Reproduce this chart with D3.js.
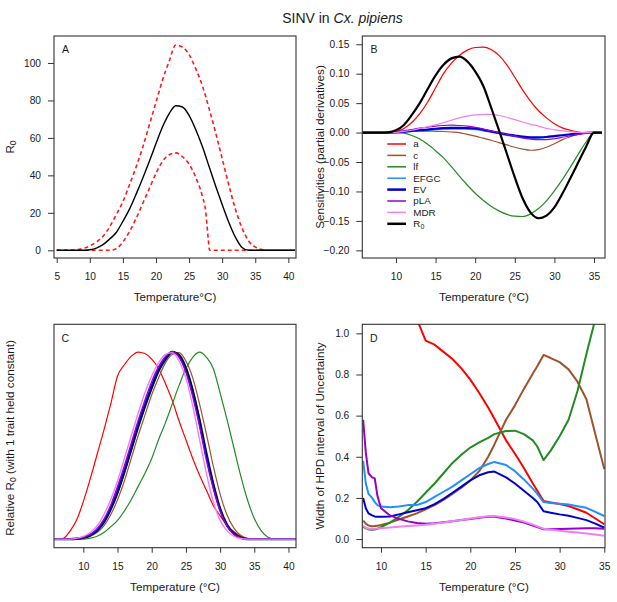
<!DOCTYPE html>
<html>
<head>
<meta charset="utf-8">
<script src="https://cdn.jsdelivr.net/npm/d3@7"></script>
<style>
  body { margin: 0; background: #fff; }
  text { font-family: "Liberation Sans", Arial, Helvetica, sans-serif; fill: #1a1a1a; }
</style>
</head>
<body>
<div id="chart"></div>
<script>
// ---- Panel A: R0 with credible interval ----
const tempA = [5,6,7,8,9,10,11,12,13,14,15,16,17,18,19,20,21,22,23,24,25,26,27,28,29,30,31,32,33,34,35,36,37,38,39,40,41];
const r0Median = [0,0,0,0,0,0.3,1.2,3,6,9.5,15.5,22,30,38.5,47.5,57,66,73,77.2,76.5,72,64.5,55.5,45,34.5,24.5,15,7,1.5,0,0,0,0,0,0,0,0];
const r0Upper = [0,0,0,0.3,1,2.3,4.5,7.5,12.5,19,26,35,44.5,55,67,79,91,101,109.6,108.5,104.5,97,88,76,63,49,35,22,12,5,1.8,0.4,0,0,0,0,0];
const tempLow = [5,12,13,14,15,16,17,18,19,20,21,22,23,24,25,26,27,27.5,27.9,28.1,41];
const r0Lower = [0,0,0,0.8,4.5,10,17,25,33,41,47.5,51,52,50,46,39,29,21,6,0,0];

// ---- Panel B: sensitivities ----
const tempB = [5,6,7,8,9,10,11,12,13,14,15,16,17,18,19,20,21,22,23,24,25,26,27,28,29,30,31,32,33,34,35,36];
const sensA = [0,0,0,0,0.0003,0.002,0.007,0.017,0.032,0.052,0.076,0.1,0.118,0.131,0.14,0.1445,0.145,0.141,0.131,0.115,0.094,0.072,0.053,0.037,0.025,0.015,0.008,0.004,0.001,0,0,0];
const sensC = [0,0,0,0,0,0.0005,0.001,0.002,0.0025,0.0025,0.0022,0.0018,0.001,0,-0.003,-0.006,-0.0095,-0.013,-0.017,-0.021,-0.025,-0.028,-0.03,-0.029,-0.025,-0.019,-0.012,-0.007,-0.003,-0.001,0,0];
const sensLf = [0,0,0,0,0,0,-0.001,-0.005,-0.011,-0.02,-0.031,-0.043,-0.058,-0.074,-0.089,-0.103,-0.115,-0.125,-0.133,-0.139,-0.142,-0.1425,-0.138,-0.129,-0.116,-0.099,-0.08,-0.059,-0.037,-0.016,0,0];
const sensEFGC = [0,0,0,0,0,0.0005,0.001,0.002,0.003,0.004,0.005,0.006,0.006,0.006,0.0055,0.005,0.003,0.0005,-0.002,-0.005,-0.007,-0.009,-0.0095,-0.009,-0.008,-0.006,-0.0045,-0.003,-0.0015,-0.0005,0,0];
const sensEV = [0,0,0,0,0,0.0005,0.0015,0.003,0.004,0.005,0.0065,0.0075,0.008,0.008,0.0078,0.007,0.005,0.002,-0.0005,-0.003,-0.005,-0.007,-0.008,-0.008,-0.0075,-0.006,-0.0045,-0.003,-0.0015,-0.0005,0,0];
const sensPLA = [0,0,0,0,0,0.001,0.003,0.005,0.0075,0.009,0.011,0.012,0.0125,0.012,0.011,0.009,0.006,0.003,0,-0.003,-0.006,-0.009,-0.011,-0.012,-0.012,-0.0105,-0.008,-0.0055,-0.003,-0.001,0,0];
const sensMDR = [0,0,0,0,0,0.0005,0.002,0.004,0.007,0.01,0.013,0.017,0.021,0.025,0.028,0.03,0.031,0.031,0.029,0.026,0.022,0.018,0.014,0.011,0.007,0.005,0.003,0.0015,0.0005,0,0,0];
const sensR0 = [0,0,0,0,0.0005,0.004,0.013,0.03,0.05,0.074,0.097,0.115,0.126,0.129,0.121,0.104,0.08,0.043,0.004,-0.036,-0.076,-0.112,-0.136,-0.1455,-0.141,-0.127,-0.104,-0.078,-0.051,-0.024,0,0];

// ---- Panel C: relative R0 with one trait held constant ----
const tempC = [5,6,7,8,9,10,11,12,13,14,15,16,17,18,19,20,21,22,23,24,25,26,27,28,29,30,31,32,33,34,35,36,37,38,39,40,41];
const relA = [0,0,0.002,0.04,0.1,0.2,0.32,0.45,0.58,0.72,0.87,0.93,0.975,0.998,0.99,0.96,0.91,0.83,0.74,0.63,0.53,0.43,0.34,0.26,0.18,0.125,0.075,0.04,0.015,0.003,0,0,0,0,0,0,0];
const relC = [0,0,0,0,0.001,0.005,0.015,0.035,0.07,0.13,0.21,0.31,0.43,0.55,0.66,0.77,0.86,0.94,0.985,0.995,0.95,0.86,0.72,0.56,0.39,0.24,0.13,0.06,0.02,0.004,0,0,0,0,0,0,0];
const relLf = [0,0,0,0,0,0,0.005,0.015,0.035,0.065,0.1,0.15,0.21,0.28,0.35,0.43,0.53,0.62,0.72,0.82,0.91,0.97,0.998,0.97,0.91,0.78,0.64,0.49,0.34,0.21,0.11,0.045,0.01,0,0,0,0];
const relEFGC = [0,0,0,0,0.001,0.006,0.018,0.042,0.085,0.155,0.245,0.35,0.47,0.59,0.7,0.8,0.89,0.955,0.995,0.985,0.92,0.8,0.645,0.47,0.305,0.17,0.082,0.033,0.009,0,0,0,0,0,0,0,0];
const relEV = [0,0,0,0,0.002,0.008,0.021,0.047,0.093,0.165,0.26,0.37,0.49,0.61,0.72,0.82,0.905,0.965,0.998,0.975,0.9,0.775,0.615,0.44,0.28,0.155,0.072,0.028,0.007,0,0,0,0,0,0,0,0];
const relPLA = [0,0,0,0,0.003,0.01,0.025,0.055,0.105,0.18,0.28,0.39,0.51,0.63,0.74,0.84,0.92,0.975,1,0.97,0.89,0.76,0.6,0.42,0.27,0.15,0.07,0.025,0.006,0,0,0,0,0,0,0,0];
const relMDR = [0,0,0,0,0.004,0.014,0.035,0.07,0.13,0.21,0.31,0.43,0.55,0.67,0.78,0.87,0.94,0.985,0.995,0.95,0.86,0.71,0.53,0.35,0.2,0.1,0.045,0.015,0.003,0,0,0,0,0,0,0,0];
const relR0 = [0,0,0,0,0.002,0.008,0.02,0.045,0.09,0.16,0.25,0.36,0.48,0.6,0.71,0.81,0.9,0.96,0.998,0.98,0.91,0.79,0.63,0.45,0.29,0.16,0.075,0.03,0.008,0,0,0,0,0,0,0,0];

// ---- Panel D: width of HPD interval ----
const tempD = [8,8.3,8.6,9,9.3,9.6,10,11,12,13,14,15,16,17,18,19,20,21,22,22.7,24,25,26,27,27.5,28.2,29,30,31,32,33,34,35];
const hpdA = [null,null,null,null,null,null,null,null,null,null,1.07,0.965,0.945,0.91,0.875,0.83,0.775,0.71,0.64,0.585,0.48,0.415,0.345,0.27,0.235,0.185,0.178,0.17,0.16,0.145,0.128,0.1,0.072];
const hpdC = [0.09,0.075,0.066,0.062,0.063,0.065,0.068,0.08,0.095,0.11,0.125,0.145,0.165,0.19,0.22,0.25,0.285,0.33,0.4,0.46,0.58,0.65,0.73,0.805,0.84,0.895,0.88,0.86,0.825,0.765,0.68,0.51,0.34];
const hpdLf = [0.06,0.052,0.047,0.045,0.046,0.05,0.058,0.08,0.108,0.14,0.18,0.225,0.27,0.32,0.37,0.41,0.445,0.47,0.492,0.51,0.525,0.527,0.51,0.48,0.45,0.384,0.43,0.5,0.58,0.72,0.9,1.07,null];
const hpdEFGC = [0.38,0.27,0.22,0.2,0.18,0.165,0.158,0.155,0.158,0.165,0.165,0.18,0.205,0.23,0.255,0.285,0.315,0.345,0.365,0.375,0.36,0.33,0.29,0.245,0.22,0.18,0.175,0.172,0.168,0.16,0.152,0.132,0.112];
const hpdEV = [0.2,0.15,0.125,0.115,0.11,0.108,0.108,0.11,0.12,0.13,0.14,0.15,0.17,0.195,0.225,0.255,0.285,0.31,0.325,0.328,0.3,0.27,0.235,0.2,0.18,0.135,0.128,0.12,0.113,0.103,0.092,0.075,0.055];
const hpdPLA = [0.58,0.42,0.32,0.3,0.295,0.21,0.15,0.115,0.098,0.086,0.078,0.074,0.077,0.082,0.087,0.093,0.098,0.103,0.108,0.108,0.1,0.09,0.08,0.066,0.058,0.048,0.048,0.049,0.05,0.051,0.052,0.052,0.05];
const hpdMDR = [0.065,0.055,0.05,0.05,0.05,0.051,0.053,0.056,0.06,0.063,0.066,0.07,0.075,0.081,0.087,0.093,0.1,0.106,0.111,0.112,0.105,0.097,0.085,0.07,0.062,0.05,0.045,0.04,0.036,0.032,0.027,0.022,0.016];

// trait names and colours
const traits = ["a", "c", "lf", "EFGC", "EV", "pLA", "MDR", "R0"];
const traitColors = ["#ff0000", "#a0522d", "#228b22", "#1e90ff", "#0000cd", "#9400d3", "#ee82ee", "#000000"];

// tick labels
const ticksAx = [5,10,15,20,25,30,35,40];
const ticksAy = [0,20,40,60,80,100];
const ticksBx = [10,15,20,25,30,35];
const ticksBy = [0.15,0.10,0.05,0,-0.05,-0.10,-0.15,-0.20];
const ticksCx = [10,15,20,25,30,35,40];
const ticksDx = [10,15,20,25,30,35];
const ticksDy = [0,0.2,0.4,0.6,0.8,1.0];

const svg = d3.select("#chart").append("svg")
  .attr("width", 617)
  .attr("height", 602);

// builds scales, clip region and axes for one panel
function makePanel(id, box, xDomain, yDomain, xTicks, yTicks, yFormat) {
  const x = d3.scaleLinear().domain(xDomain).range([box.left, box.right]);
  const y = d3.scaleLinear().domain(yDomain).range([box.bottom, box.top]);

  svg.append("clipPath").attr("id", id)
    .append("rect")
    .attr("x", box.left).attr("y", box.top)
    .attr("width", box.right - box.left).attr("height", box.bottom - box.top);

  const g = svg.append("g").attr("clip-path", `url(#${id})`);

  const xAxis = svg.append("g")
    .attr("transform", `translate(0,${box.bottom})`)
    .call(d3.axisBottom(x).tickValues(xTicks).tickSize(5).tickPadding(10).tickFormat(d3.format("d")));
  styleAxis(xAxis);

  if (yTicks) {
    const yAxis = svg.append("g")
      .attr("transform", `translate(${box.left},0)`)
      .call(d3.axisLeft(y).tickValues(yTicks).tickSize(6).tickPadding(7).tickFormat(yFormat));
    styleAxis(yAxis);
  }
  return { x, y, g, box };
}

function styleAxis(sel) {
  sel.select(".domain").remove();
  sel.selectAll(".tick line").attr("stroke", "#333");
  sel.selectAll(".tick text")
    .attr("fill", "#1a1a1a")
    .style("font-size", "10.2px")
    .style("font-family", "'Liberation Sans', Arial, sans-serif");
}

function drawBox(p) {
  svg.append("rect")
    .attr("x", p.box.left).attr("y", p.box.top)
    .attr("width", p.box.right - p.box.left).attr("height", p.box.bottom - p.box.top)
    .attr("fill", "none").attr("stroke", "#333").attr("stroke-width", 1.1);
}

function drawLine(p, xs, ys, color, width, curve, dash) {
  const pts = xs.map((t, i) => [t, ys[i]]);
  const line = d3.line()
    .defined(d => d[1] !== null)
    .x(d => p.x(d[0]))
    .y(d => p.y(d[1]))
    .curve(curve || d3.curveMonotoneX);
  p.g.append("path")
    .datum(pts)
    .attr("d", line)
    .attr("fill", "none")
    .attr("stroke", color)
    .attr("stroke-width", width)
    .attr("stroke-linejoin", "round")
    .attr("stroke-dasharray", dash || null);
}

function panelLetter(txt, x, y) {
  svg.append("text").attr("x", x).attr("y", y).style("font-size", "10.5px").text(txt);
}

// rotated y label, optional subscript "0" after R
function yLabel(x, y, parts) {
  const t = svg.append("text")
    .attr("transform", `translate(${x},${y}) rotate(-90)`)
    .attr("text-anchor", "middle")
    .style("font-size", "11.7px");
  parts.forEach(p => {
    const s = t.append("tspan").text(p.text);
    if (p.sub) s.attr("baseline-shift", "-25%").style("font-size", "8.5px");
  });
}

function xLabel(x, y, txt) {
  svg.append("text").attr("x", x).attr("y", y)
    .attr("text-anchor", "middle").style("font-size", "11.7px").text(txt);
}

// title
const title = svg.append("text").attr("x", 342.5).attr("y", 23)
  .attr("text-anchor", "middle").style("font-size", "14px");
title.append("tspan").text("SINV in ");
title.append("tspan").style("font-style", "italic").text("Cx. pipiens");

// ---------- Panel A ----------
const pA = makePanel("clipA", { left: 54, right: 296, top: 36, bottom: 258 },
  [4.59, 41.16], [-4.11, 114.4], ticksAx, ticksAy, d3.format("d"));
drawLine(pA, tempA, r0Upper, "#ff1a1a", 1.6, null, "4,3");
drawLine(pA, tempLow, r0Lower, "#ff1a1a", 1.6, null, "4,3");
drawLine(pA, tempA, r0Median, "#000", 1.4);
drawBox(pA);
panelLetter("A", 62, 53);
yLabel(14, 147, [{ text: "R" }, { text: "0", sub: true }]);
xLabel(175, 300.5, "Temperature°C)");

// ---------- Panel B ----------
const pB = makePanel("clipB", { left: 362.3, right: 605, top: 36, bottom: 258 },
  [5.745, 36.39], [-0.213, 0.164], ticksBx, ticksBy, d => d3.format(".2f")(d).replace("-", "\u2212"));
const sensSeries = [sensA, sensC, sensLf, sensEFGC, sensEV, sensPLA, sensMDR, sensR0];
const sensWidths = [1.2, 1.2, 1.2, 1.2, 2.2, 1.2, 1.2, 2.2];
sensSeries.forEach((s, i) => drawLine(pB, tempB, s, traitColors[i], sensWidths[i]));
drawBox(pB);
panelLetter("B", 370.5, 53);
yLabel(324, 147, [{ text: "Sensitivities (partial derivatives)" }]);
xLabel(484, 300.5, "Temperature (°C)");

// legend
const legend = svg.append("g").attr("transform", "translate(387.3,144)");
traits.forEach((name, i) => {
  const row = legend.append("g").attr("transform", `translate(0,${i * 11.4})`);
  row.append("line").attr("x1", 0).attr("x2", 18.7).attr("y1", 0).attr("y2", 0)
    .attr("stroke", traitColors[i]).attr("stroke-width", sensWidths[i] + 0.3);
  const t = row.append("text").attr("x", 26).attr("y", 3.4).style("font-size", "9.8px");
  if (name === "R0") {
    t.append("tspan").text("R");
    t.append("tspan").attr("baseline-shift", "-25%").style("font-size", "7px").text("0");
  } else {
    t.text(name);
  }
});

// ---------- Panel C ----------
const pC = makePanel("clipC", { left: 54, right: 296, top: 324.3, bottom: 547.7 },
  [5.71, 41.1], [-0.046, 1.146], ticksCx, null, null);
drawLine(pC, tempC, relA, traitColors[0], 1.2);
drawLine(pC, tempC, relC, traitColors[1], 1.2);
drawLine(pC, tempC, relLf, traitColors[2], 1.2);
drawLine(pC, tempC, relEFGC, traitColors[3], 1.5);
drawLine(pC, tempC, relR0, traitColors[7], 2.4);
drawLine(pC, tempC, relEV, traitColors[4], 1.6);
drawLine(pC, tempC, relPLA, traitColors[5], 1.4);
drawLine(pC, tempC, relMDR, traitColors[6], 1.4);
drawBox(pC);
panelLetter("C", 61.5, 341.5);
yLabel(14, 438, [{ text: "Relative R" }, { text: "0", sub: true }, { text: " (with 1 trait held constant)" }]);
xLabel(175, 590.5, "Temperature (°C)");

// ---------- Panel D ----------
const pD = makePanel("clipD", { left: 362.3, right: 605, top: 324.3, bottom: 547.7 },
  [7.906, 35.08], [-0.042, 1.044], ticksDx, ticksDy, d3.format(".1f"));
const hpdSeries = [hpdA, hpdC, hpdLf, hpdEFGC, hpdEV, hpdPLA, hpdMDR];
hpdSeries.forEach((s, i) => drawLine(pD, tempD, s, traitColors[i], 2, d3.curveLinear));
drawBox(pD);
panelLetter("D", 370, 341.5);
yLabel(324, 436, [{ text: "Width of HPD interval of Uncertainty" }]);
xLabel(484, 590.5, "Temperature (°C)");
</script>
</body>
</html>
